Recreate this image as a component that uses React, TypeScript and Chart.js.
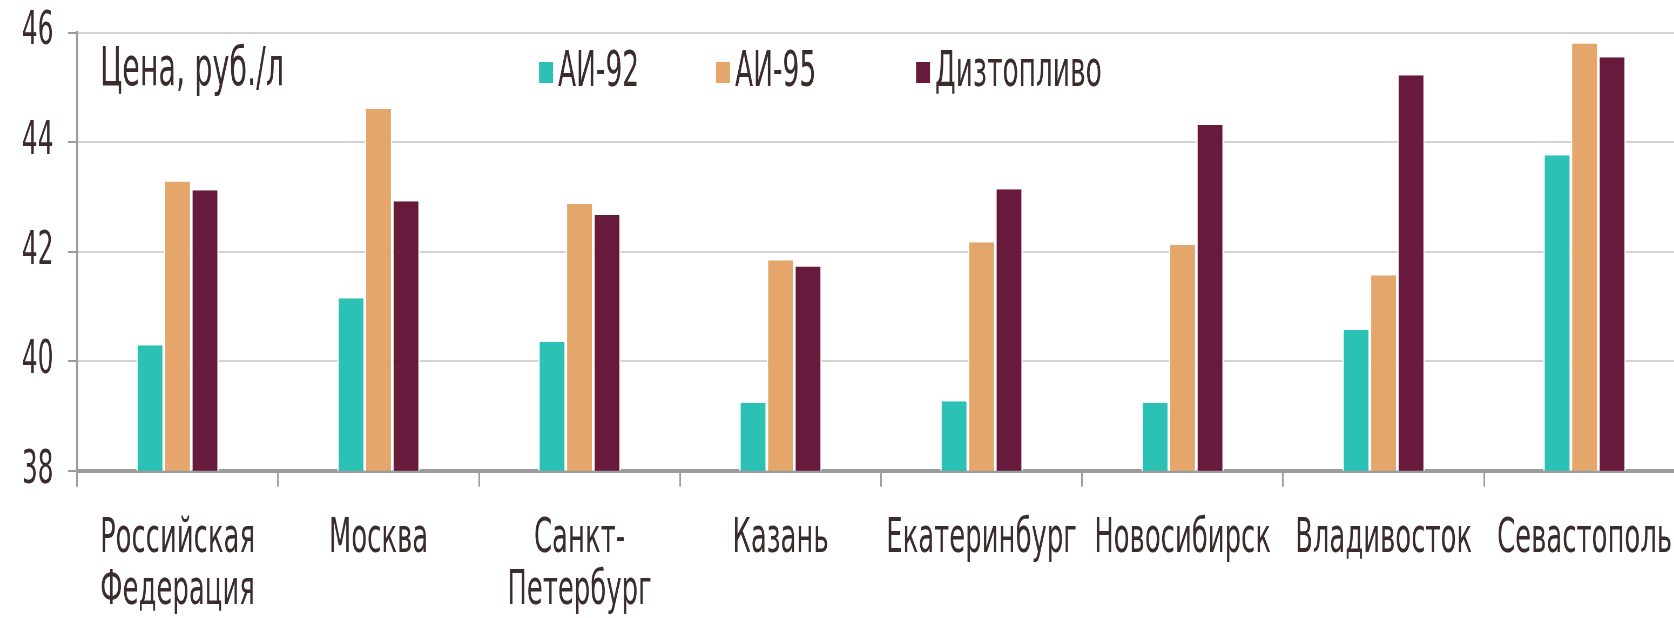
import React, { useEffect, useRef } from 'react';
import { Chart, registerables } from 'chart.js';

Chart.register(...registerables);

// ---- data ----
const categories: (string | string[])[] = [
  ['Российская', 'Федерация'],
  'Москва',
  ['Санкт-', 'Петербург'],
  'Казань',
  'Екатеринбург',
  'Новосибирск',
  'Владивосток',
  'Севастополь',
];
const ai92 = [40.29, 41.15, 40.35, 39.24, 39.27, 39.24, 40.57, 43.76];
const ai95 = [43.28, 44.61, 42.87, 41.84, 42.17, 42.12, 41.57, 45.8];
const diesel = [43.12, 42.92, 42.67, 41.73, 43.14, 44.31, 45.22, 45.55];
const seriesNames = ['АИ-92', 'АИ-95', 'Дизтопливо'];
const seriesColors = ['#2BC1B5', '#E4A66A', '#681A3D'];
const yMin = 38;
const yMax = 46;
const yStep = 2;
const unitLabel = 'Цена, руб./л';

// ---- style ----
const S = 0.54; // horizontal squeeze of the whole drawing (condensed look)
const DISPLAY_W = 1700;
const H = 618;
const CANVAS_W = Math.round(DISPLAY_W / S);
const TEXT = '#3B2B2D';
const GRID = '#D3D3D3';
const AXIS = '#9C9C9C';
const FONT = 'DejaVu Sans';
const px = (v: number) => v / S; // displayed px -> canvas px (horizontal)

const overlay = {
  id: 'overlay',
  afterDraw(chart: any) {
    const ctx = chart.ctx;
    ctx.save();
    ctx.textAlign = 'left';
    ctx.textBaseline = 'alphabetic';
    ctx.fillStyle = TEXT;
    ctx.font = `53px "${FONT}"`;
    ctx.fillText(unitLabel, px(100), 85);
    const starts = [539, 716, 916];
    chart.data.datasets.forEach((ds: any, i: number) => {
      const x = px(starts[i]);
      ctx.fillStyle = ds.backgroundColor;
      ctx.fillRect(x, 62, px(14), 21);
      ctx.fillStyle = TEXT;
      ctx.font = `49px "${FONT}"`;
      ctx.fillText(ds.label, x + px(19), 86);
    });
    ctx.restore();
  },
};

export default function App() {
  const ref = useRef<HTMLCanvasElement>(null);
  useEffect(() => {
    if (!ref.current) return;
    const series = [ai92, ai95, diesel];
    const chart = new Chart(ref.current, {
      type: 'bar',
      data: {
        labels: categories,
        datasets: series.map((d, i) => ({
          label: seriesNames[i],
          data: d,
          backgroundColor: seriesColors[i],
          borderColor: '#FFFFFF',
          borderWidth: { left: px(1.35), right: px(1.35), top: 0, bottom: 0 },
          borderSkipped: false,
          categoryPercentage: 0.41,
          barPercentage: 1,
        })),
      },
      options: {
        responsive: false,
        devicePixelRatio: 1,
        animation: false,
        events: [],
        layout: { padding: { top: 32.5, right: CANVAS_W - px(1685), left: 0, bottom: 0 } },
        plugins: {
          legend: { display: false },
          tooltip: { enabled: false },
        },
        scales: {
          x: {
            offset: true,
            grid: {
              display: true,
              offset: true,
              drawOnChartArea: false,
              drawTicks: true,
              tickLength: 16,
              color: AXIS,
              lineWidth: px(1.6),
            },
            border: { display: true, color: AXIS, width: 4 },
            ticks: {
              color: TEXT,
              font: { family: FONT, size: 48, lineHeight: 1.1 },
              padding: 26,
              maxRotation: 0,
              minRotation: 0,
              autoSkip: false,
            },
            afterFit: (s: any) => {
              s.height = H - 470.7;
              s.paddingLeft = 0;
              s.paddingRight = 0;
            },
          },
          y: {
            min: yMin,
            max: yMax,
            ticks: {
              stepSize: yStep,
              color: TEXT,
              font: { family: FONT, size: 46 },
              padding: px(14.5),
            },
            grid: {
              color: GRID,
              lineWidth: 2,
              drawTicks: true,
              tickLength: px(9),
              tickColor: AXIS,
            },
            border: { display: true, color: AXIS, width: px(1.9) },
            afterFit: (s: any) => {
              s.width = px(77);
              s.paddingTop = 0;
              s.paddingBottom = 0;
            },
          },
        },
      },
      plugins: [overlay],
    } as any);
    return () => chart.destroy();
  }, []);

  return (
    <div
      style={{
        position: 'absolute',
        left: 0,
        top: 0,
        width: 1674,
        height: H,
        overflow: 'hidden',
        background: '#FFFFFF',
      }}
    >
      <canvas
        ref={ref}
        width={CANVAS_W}
        height={H}
        style={{ width: `${DISPLAY_W}px`, height: `${H}px`, display: 'block' }}
      />
    </div>
  );
}
